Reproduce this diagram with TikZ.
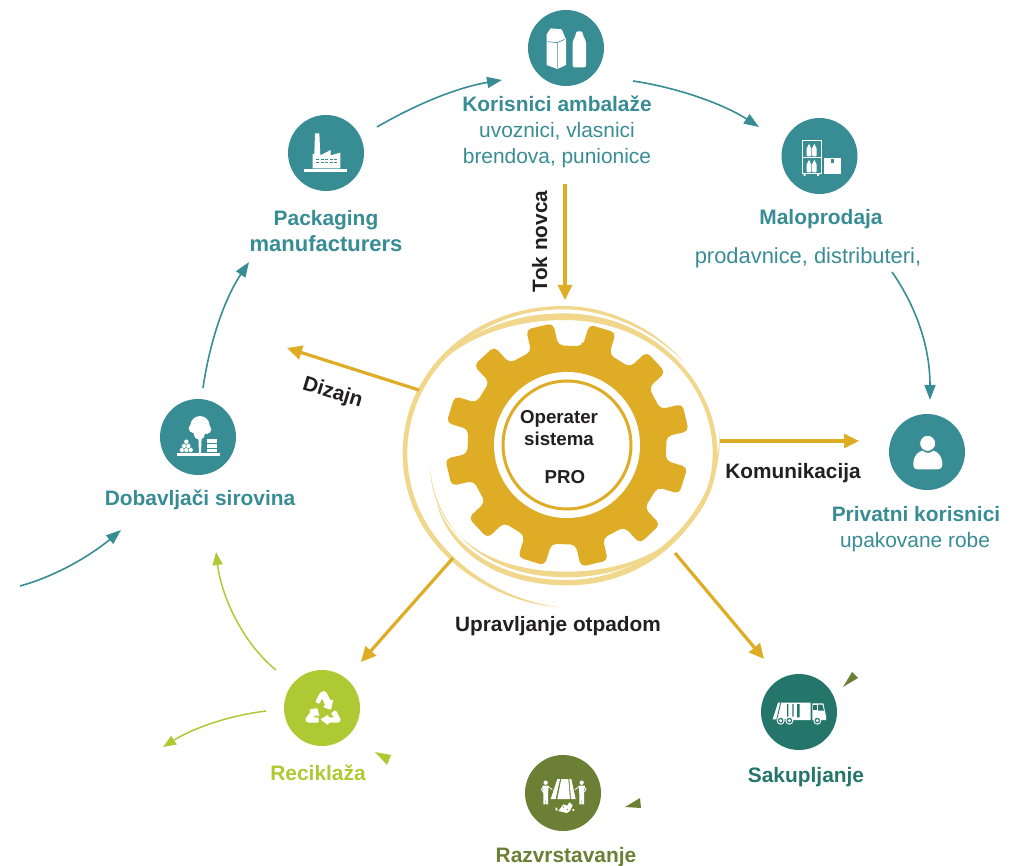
\documentclass[tikz,border=0pt]{standalone}
\usepackage{fontspec}
\setmainfont{Liberation Sans}
\usetikzlibrary{arrows.meta}
\definecolor{teal}{HTML}{388C94}
\definecolor{dkgreen}{HTML}{24756A}
\definecolor{olive}{HTML}{6B8035}
\definecolor{lime}{HTML}{AFC934}
\definecolor{gold}{HTML}{DFAC26}
\definecolor{pale}{HTML}{F0D78C}
\definecolor{ink}{HTML}{231F20}
\tikzset{
 x=1pt,y=-1pt,
 disc/.style={circle,minimum size=76pt,inner sep=0pt,fill=#1},
 zoomed/.style 2 args={shift={(#1,#2)},x=0.33333pt,y=-0.33333pt},
 tealarrow/.style={draw=teal,line width=1.6pt,-{Triangle[length=15pt,width=11pt]}},
 limearrow/.style={draw=lime,line width=1.5pt,-{Triangle[length=13pt,width=10pt]}},
 goldarrow/.style={draw=gold,line width=3.2pt,-{Triangle[length=15pt,width=14pt]}},
 head/.style={font=\bfseries\fontsize{20.9}{24}\selectfont,text=#1,inner sep=0pt,anchor=base},
 sub/.style={font=\fontsize{20.9}{24}\selectfont,text=teal,inner sep=0pt,anchor=base},
 blk/.style={font=\bfseries\fontsize{20.8}{24}\selectfont,text=ink,inner sep=0pt,anchor=base},
 hubtext/.style={font=\bfseries\fontsize{18.7}{22}\selectfont,text=ink,inner sep=0pt,anchor=base},
}
\begin{document}
\begin{tikzpicture}
\useasboundingbox (0,0) rectangle (1020,866);

% swirl
\begin{scope}[zoomed={400}{290}]
\fill[pale] (480,952) .. controls (250,935) and (8,760) .. (8,490) .. controls (8,240) and (220,48) .. (490,48) .. controls (620,48) and (760,110) .. (850,215) .. controls (760,122) and (620,58) .. (490,58) .. controls (230,58) and (22,250) .. (22,490) .. controls (22,750) and (260,925) .. (480,952) -- cycle;
\fill[pale] (52,310) .. controls (120,160) and (300,70) .. (490,70) .. controls (760,70) and (952,280) .. (952,490) .. controls (952,700) and (760,845) .. (500,845) .. controls (250,845) and (90,720) .. (90,520) .. controls (96,710) and (250,862) .. (500,862) .. controls (750,862) and (938,700) .. (938,490) .. controls (938,280) and (760,90) .. (490,90) .. controls (300,90) and (120,170) .. (52,310) -- cycle;
\fill[pale] (958,420) .. controls (975,650) and (780,888) .. (500,886) .. controls (300,886) and (150,790) .. (110,640) .. controls (160,775) and (300,870) .. (500,870) .. controls (760,870) and (962,650) .. (958,420) -- cycle;
\end{scope}

% gear
\begin{scope}[shift={(567,445)}]
\fill[gold,rounded corners=5pt] ({-73-8}:100)
  \foreach \k [evaluate=\k as \a using 30*\k-73] in {0,...,11}{
    -- ({\a-8}:100) -- ({\a-6.5}:122.5) -- ({\a+6.5}:122.5) -- ({\a+8}:100)
  } -- cycle;
\fill[white] (0,0) circle[radius=73];
\end{scope}
\node[circle,minimum size=128pt,inner sep=0pt,draw=gold,line width=3pt,fill=white] (hub) at (567,445) {};
\node[hubtext] (op) at (559,423) {Operater};
\node[hubtext] (si) at (559,446) {sistema};
\node[hubtext] (pro) at (565,483) {PRO};

% discs
\node[disc=teal] (kor) at (566,48) {};
\node[disc=teal] (pack) at (326,153) {};
\node[disc=teal] (malo) at (819.5,156) {};
\node[disc=teal] (priv) at (927,452) {};
\node[disc=teal] (dob) at (198,437) {};
\node[disc=lime] (rec) at (322,708) {};
\node[disc=olive] (raz) at (563,793) {};
\node[disc=dkgreen] (sak) at (799,712) {};

% icon: carton + bottle
\begin{scope}[zoomed={270}{0}]
\fill[white] (830,103) -- (842,85) -- (875,88) -- (888,118) -- (888,195) -- (862,207) -- (830,195) -- cycle;
\draw[teal,line width=.6pt] (832,125) -- (862,128) -- (884,118) (862,128) -- (862,205);
\fill[white,rounded corners=2pt] (918,94) -- (938,94) -- (938,106) -- (948,122) -- (948,202) -- (908,202) -- (908,122) -- (918,106) -- cycle;
% icon: factory
\fill[white] (102,507) rectangle (231,516);
\fill[white] (128,505) -- (128,462) -- (133,462) -- (135,400) -- (148,400) -- (151,466) -- (182,450) -- (182,466) -- (211,458) -- (211,505) -- cycle;
\draw[teal,line width=.7pt,dash pattern=on 3pt off 1.5pt] (139,478) -- (202,478) (139,488) -- (202,488);
\end{scope}

% icon: shelf and box
\begin{scope}[zoomed={740}{100}]
\draw[white,line width=1.5pt] (187,122) rectangle (244,221) (187,172) -- (244,172);
\fill[white] (191,221) rectangle (197,228) (231,221) rectangle (237,228);
\foreach \xx/\yy in {207/132,223/132,207/180,223/180}{
 \fill[white,rounded corners=1pt] (\xx-2,\yy) -- (\xx+2,\yy) -- (\xx+2,\yy+6) -- (\xx+7,\yy+11) -- (\xx+7,\yy+37) -- (\xx-7,\yy+37) -- (\xx-7,\yy+11) -- (\xx-2,\yy+6) -- cycle;
}
\fill[white] (252,173) rectangle (303,223);
\fill[teal] (272,177) rectangle (283,190);
\end{scope}

% icon: person
\begin{scope}[zoomed={880}{405}]
\fill[white] (100,178) .. controls (100,150) and (115,140) .. (128,137) .. controls (138,146) and (150,146) .. (160,137) .. controls (175,140) and (187,155) .. (187,178) .. controls (187,190) and (180,193) .. (170,193) -- (115,193) .. controls (105,193) and (100,190) .. (100,178) -- cycle;
\fill[white,draw=teal,line width=.8pt] (143,115) circle[radius=24];
\end{scope}

% icon: tree and logs
\begin{scope}[zoomed={150}{390}]
\fill[white] (80,190) rectangle (210,197);
\fill[white] (145,140) -- (155,140) -- (153,190) -- (147,190) -- cycle;
\fill[white] (150,107) circle[radius=29] (130,115) circle[radius=14] (170,118) circle[radius=14] (148,132) circle[radius=17];
\foreach \xx/\yy in {96/180,109/180,122/180,102/168,115/168,109/155}{
 \fill[white,draw=teal,line width=.3pt] (\xx,\yy) circle[radius=7.5];
}
\fill[white] (172,148) rectangle (200,187);
\draw[teal,line width=.6pt] (172,161) -- (200,161) (172,174) -- (200,174);
\end{scope}

% icon: recycling
\begin{scope}[zoomed={260}{660}]
\fill[white,rounded corners=1pt] (166,126) -- (180,98) -- (194,92) -- (202,102) -- (212,122) -- (220,118) -- (213,150) -- (187,140) -- (196,136) -- (186,115) -- (178,132) -- cycle;
\fill[white,rounded corners=1pt] (212,160) -- (227,150) -- (243,180) -- (236,188) -- (205,188) -- (205,196) -- (181,178) -- (205,164) -- (205,172) -- (223,172) -- cycle;
\fill[white,rounded corners=1pt] (147,149) -- (172,144) -- (179,170) -- (170,165) -- (158,172) -- (176,172) -- (176,188) -- (142,188) -- (135,178) -- (152,155) -- cycle;
\end{scope}

% icon: sorting
\begin{scope}[zoomed={510}{745}]
\fill[white] (142,102) -- (150,102) -- (137,162) -- (122,162) -- cycle;
\fill[white] (154,102) -- (175,102) -- (180,162) -- (142,162) -- cycle;
\fill[white] (178,102) -- (184,102) -- (197,162) -- (183,162) -- cycle;
\foreach \xx/\d in {107/1,215/-1}{
 \fill[white] (\xx,113) circle[radius=6.5];
 \fill[white] (\xx-9,122) -- (\xx+9,122) -- (\xx+7,148) -- (\xx+7,178) -- (\xx+1,178) -- (\xx,152) -- (\xx-1,178) -- (\xx-7,178) -- (\xx-7,148) -- cycle;
 \draw[white,line width=.8pt] (\xx+7*\d,124) -- (\xx+20*\d,134);
 \draw[white,line width=.8pt] (\xx-7*\d,124) -- (\xx-13*\d,134) -- (\xx-8*\d,140);
}
\fill[white] (145,198) -- (160,178) -- (172,182) -- (178,172) -- (188,180) -- (180,198) -- (170,204) -- cycle;
\fill[olive] (160,186) circle[radius=2] (172,193) circle[radius=2];
\fill[white] (137,188) rectangle (142,197) (190,195) circle[radius=3.5];
\end{scope}

% icon: truck
\begin{scope}[zoomed={750}{660}]
\fill[white] (68,178) -- (84,128) -- (182,128) -- (182,180) -- (130,180) -- (130,178) -- cycle;
\draw[dkgreen,line width=.9pt] (92,128) -- (80,180);
\fill[dkgreen] (111,132) rectangle (115,170) (127,132) rectangle (131,170) (141,132) rectangle (149,172);
\fill[white] (187,130) -- (220,130) -- (228,168) -- (228,180) -- (187,180) -- cycle;
\fill[dkgreen] (190,134) rectangle (200,150);
\fill[dkgreen] (204,134) -- (217,134) -- (222,152) -- (204,152) -- cycle;
\foreach \xx in {92,118,202}{
 \fill[white] (\xx,182) circle[radius=12];
 \fill[dkgreen] (\xx,182) circle[radius=8.5];
 \fill[white] (\xx,182) circle[radius=5];
}
\end{scope}

% small triangles
\fill[lime] (375,752) -- (391,755) -- (387,765) -- cycle;
\fill[olive] (625,807) -- (640,798) -- (641,808) -- cycle;
\fill[olive] (852,672) -- (858,678) -- (843,687) -- cycle;

% labels
\node[head=teal] (lkor) at (557,112) {Korisnici ambalaže};
\node[sub] (s1) at (557,138) {uvoznici, vlasnici};
\node[sub] (s2) at (557,164) {brendova, punionice};
\node[head=teal] (lpack) at (326,226) {Packaging};
\node[head=teal,font=\bfseries\fontsize{22}{24}\selectfont] (lpack2) at (326,252) {manufacturers};
\node[head=teal] (lmalo) at (821,225) {Maloprodaja};
\node[sub,font=\fontsize{21.9}{24}\selectfont] (s3) at (808,264) {prodavnice, distributeri,};
\node[head=teal] (lpriv) at (916,521) {Privatni korisnici};
\node[sub] (s4) at (915,547) {upakovane robe};
\node[head=teal] (ldob) at (200,505) {Dobavljači sirovina};
\node[head=lime] (lrec) at (318,780) {Reciklaža};
\node[head=dkgreen] (lsak) at (806,782) {Sakupljanje};
\node[head=olive] (lraz) at (566,862) {Razvrstavanje};
\node[blk,rotate=90] (ltok) at (547,241.5) {Tok novca};
\node[blk,rotate=-17] (ldiz) at (331,398) {Dizajn};
\node[blk] (lkom) at (793,478) {Komunikacija};
\node[blk] (lupr) at (558,631) {Upravljanje otpadom};

% connector ends
\coordinate (a1) at (377,127); \coordinate (a2) at (502,80);
\coordinate (b1) at (633,81); \coordinate (b2) at (759,127);
\coordinate (c1) at (892,272); \coordinate (c2) at (930,400);
\coordinate (d1) at (203,388); \coordinate (d2) at (249,262);
\coordinate (e1) at (20,586); \coordinate (e2) at (121,530);
\coordinate (f1) at (276,670); \coordinate (f2) at (216,552);
\coordinate (g1) at (266,711); \coordinate (g2) at (163,747);
\coordinate (h1) at (565,184); \coordinate (h2) at (565,300);
\coordinate (i1) at (419,390); \coordinate (i2) at (287,348);
\coordinate (j1) at (720,441); \coordinate (j2) at (859,441);
\coordinate (k1) at (453,558); \coordinate (k2) at (361,662);
\coordinate (l1) at (675,553); \coordinate (l2) at (764,659);

\draw[tealarrow] (a1) .. controls (420,102) and (460,87) .. (a2);
\draw[tealarrow] (b1) .. controls (680,88) and (725,105) .. (b2);
\draw[tealarrow] (c1) .. controls (915,305) and (930,345) .. (c2);
\draw[tealarrow] (d1) .. controls (210,340) and (225,298) .. (d2);
\draw[tealarrow] (e1) .. controls (60,575) and (95,552) .. (e2);
\draw[limearrow] (f1) .. controls (245,645) and (222,600) .. (f2);
\draw[limearrow] (g1) .. controls (225,716) and (190,730) .. (g2);
\draw[goldarrow] (h1) -- (h2);
\draw[goldarrow] (i1) -- (i2);
\draw[goldarrow] (j1) -- (j2);
\draw[goldarrow] (k1) -- (k2);
\draw[goldarrow] (l1) -- (l2);
\end{tikzpicture}
\end{document}
